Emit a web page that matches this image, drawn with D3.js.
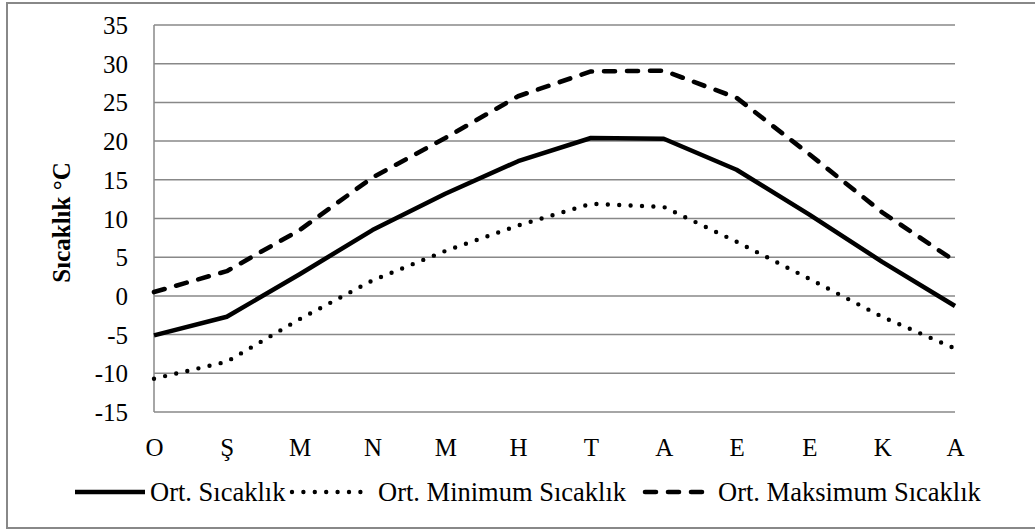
<!DOCTYPE html>
<html>
<head>
<meta charset="utf-8">
<script src="https://cdn.jsdelivr.net/npm/d3@7"></script>
<style>
    html, body { margin: 0; padding: 0; background: #fff; }
    svg { display: block; }
    text { font-family: "Liberation Serif", "Times New Roman", serif; fill: #000; }
</style>
</head>
<body>
<div id="chart"></div>
<script>
// months (first letters, Turkish)
var months = ["O", "Ş", "M", "N", "M", "H", "T", "A", "E", "E", "K", "A"];
var ortSicaklik = [-5.1, -2.7, 2.8, 8.5, 13.2, 17.4, 20.4, 20.3, 16.3, 10.5, 4.4, -1.3];
var ortMinimum = [-10.7, -8.5, -3.0, 2.0, 5.8, 9.1, 11.9, 11.5, 7.0, 2.2, -2.7, -6.8];
var ortMaksimum = [0.5, 3.2, 8.5, 15.3, 20.4, 25.8, 29.0, 29.1, 25.6, 18.3, 10.8, 4.5];
var yTicks = [35, 30, 25, 20, 15, 10, 5, 0, -5, -10, -15];
var seriesNames = ["Ort. Sıcaklık", "Ort. Minimum Sıcaklık", "Ort. Maksimum Sıcaklık"];

var W = 1035, H = 531;
var margin = {top: 25, right: 80, bottom: 119, left: 154},
    width = W - margin.left - margin.right,
    height = H - margin.top - margin.bottom;

var gridColor = "#888888";

var styles = [
    {dash: null, width: 4.5, cap: "butt"},
    {dash: "0,11.4", width: 4.4, cap: "round"},
    {dash: "11,12", width: 4.6, cap: "round"}
];

var svg = d3.select("#chart").append("svg")
    .attr("width", W)
    .attr("height", H);

// outer frame
svg.append("rect")
    .attr("x", 7).attr("y", 3)
    .attr("width", W + 10).attr("height", 525)
    .attr("fill", "none")
    .attr("stroke", gridColor)
    .attr("stroke-width", 2);

var g = svg.append("g")
    .attr("transform", "translate(" + margin.left + "," + margin.top + ")");

var x = d3.scalePoint()
    .domain(d3.range(months.length))
    .range([0, width]);

var y = d3.scaleLinear()
    .domain([-15, 35])
    .range([height, 0]);

// gridlines
g.append("g").attr("class", "grid")
    .selectAll("line")
    .data(yTicks)
    .enter().append("line")
    .attr("x1", 0).attr("x2", width)
    .attr("y1", function(d) { return y(d); })
    .attr("y2", function(d) { return y(d); })
    .attr("stroke", gridColor)
    .attr("stroke-width", 1.5);

// left axis line
g.append("line")
    .attr("x1", 0).attr("x2", 0)
    .attr("y1", 0).attr("y2", height)
    .attr("stroke", gridColor)
    .attr("stroke-width", 1.5);

// y axis (plain hyphen for negatives, like the original)
var yAxis = d3.axisLeft(y).tickValues(yTicks).tickSize(0).tickPadding(26)
    .tickFormat(function(d) { return String(d); });
var yG = g.append("g").call(yAxis);
yG.select(".domain").remove();
yG.selectAll("text")
    .style("font-size", "25px")
    .style("font-family", "'Liberation Serif', serif")
    .attr("dy", "0.34em");

// x axis
var xAxis = d3.axisBottom(x).tickSize(0).tickPadding(26)
    .tickFormat(function(i) { return months[i]; });
var xG = g.append("g")
    .attr("transform", "translate(0," + height + ")")
    .call(xAxis);
xG.select(".domain").remove();
xG.selectAll("text")
    .style("font-size", "25px")
    .style("font-family", "'Liberation Serif', serif");

// y title
svg.append("text")
    .attr("transform", "translate(70," + (margin.top + height / 2 + 4) + ") rotate(-90)")
    .attr("text-anchor", "middle")
    .style("font-size", "25px")
    .style("font-weight", "bold")
    .text("Sıcaklık °C");

// lines
var line = d3.line()
    .x(function(d, i) { return x(i); })
    .y(function(d) { return y(d); });

[ortSicaklik, ortMinimum, ortMaksimum].forEach(function(data, k) {
    g.append("path")
        .datum(data)
        .attr("d", line)
        .attr("fill", "none")
        .attr("stroke", "#000")
        .attr("stroke-width", styles[k].width)
        .attr("stroke-linecap", styles[k].cap)
        .attr("stroke-linejoin", "round")
        .attr("stroke-dasharray", styles[k].dash);
});

// legend
var legendY = 492;
var legendItems = [
    {x1: 75, x2: 145, tx: 150},
    {x1: 292, x2: 366, tx: 378},
    {x1: 645, x2: 705, tx: 718}
];
legendItems.forEach(function(it, k) {
    svg.append("line")
        .attr("x1", it.x1).attr("x2", it.x2)
        .attr("y1", legendY).attr("y2", legendY)
        .attr("stroke", "#000")
        .attr("stroke-width", styles[k].width)
        .attr("stroke-linecap", styles[k].cap)
        .attr("stroke-dasharray", styles[k].dash);
    svg.append("text")
        .attr("x", it.tx)
        .attr("y", legendY)
        .attr("dy", "0.34em")
        .style("font-size", "26.5px")
        .text(seriesNames[k]);
});
</script>
</body>
</html>
